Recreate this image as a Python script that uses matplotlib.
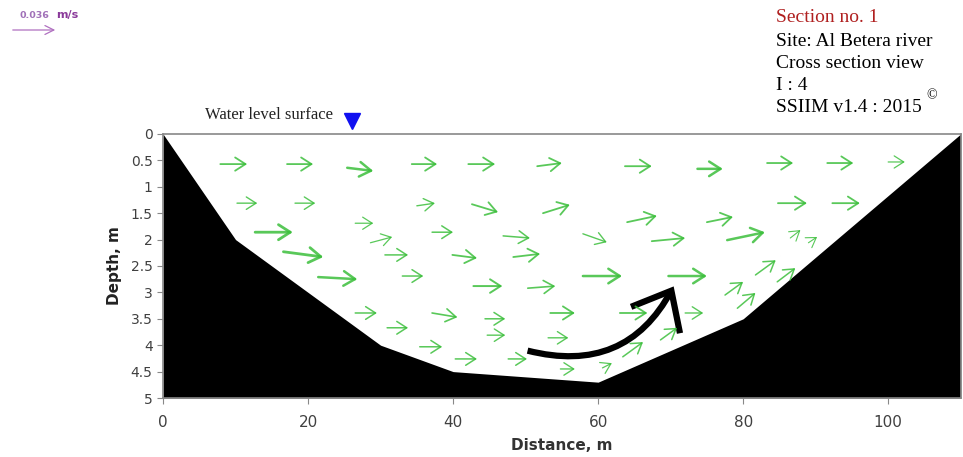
import matplotlib.pyplot as plt
from matplotlib.patches import FancyArrowPatch

# river bed profile (distance m, depth m)
bed_x = [0, 10, 30, 40, 60, 80, 110]
bed_depth = [0, 2.0, 4.0, 4.5, 4.7, 3.5, 0]

# velocity vectors: tail (x0, d0) and head (x1, d1), line weight per vector
x0 = [7.9, 17.1, 25.4, 34.3, 42.1, 51.6, 63.7, 73.7, 83.3, 91.6, 100.0,
      10.2, 18.2, 35.0, 42.6, 52.4, 64.0, 75.0, 84.8, 92.3,
      12.7, 16.6, 26.5, 28.6, 30.6, 37.1, 39.9, 46.9, 48.3, 57.9, 67.4, 77.8, 86.5, 89.0,
      21.4, 33.0, 42.8, 50.3, 57.9, 69.7,
      26.5, 30.9, 35.4, 37.1, 44.4, 53.4, 63.0, 72.0, 44.7, 53.1, 40.3, 47.6, 54.8,
      60.6, 63.4, 68.6, 77.5, 79.2, 81.7, 84.7]
d0 = [0.57, 0.57, 0.64, 0.57, 0.57, 0.61, 0.61, 0.66, 0.55, 0.55, 0.53,
      1.31, 1.31, 1.36, 1.33, 1.50, 1.67, 1.67, 1.31, 1.31,
      1.86, 2.23, 1.69, 2.06, 2.29, 1.86, 2.29, 1.93, 2.33, 1.89, 2.03, 2.01, 1.97, 2.06,
      2.71, 2.69, 2.88, 2.92, 2.69, 2.69,
      3.39, 3.67, 4.03, 3.39, 3.50, 3.39, 3.39, 3.39, 3.81, 3.86, 4.26, 4.26, 4.45,
      4.43, 4.22, 3.90, 3.05, 3.30, 2.67, 2.80]
x1 = [11.6, 20.7, 29.0, 37.8, 45.8, 55.0, 67.4, 77.2, 86.9, 95.2, 102.3,
      13.0, 21.0, 37.5, 46.2, 56.1, 68.1, 78.6, 88.8, 96.1,
      17.9, 22.1, 29.0, 31.6, 33.8, 40.0, 43.3, 50.6, 52.0, 61.2, 72.0, 83.0, 87.9, 90.2,
      26.8, 35.9, 46.8, 54.1, 63.3, 75.0,
      29.5, 33.8, 38.5, 40.6, 47.2, 56.8, 66.8, 74.5, 47.2, 55.9, 43.3, 50.2, 56.8,
      61.9, 66.2, 70.9, 80.0, 81.7, 84.5, 87.2]
d1 = [0.57, 0.57, 0.70, 0.57, 0.57, 0.55, 0.61, 0.66, 0.55, 0.55, 0.53,
      1.31, 1.31, 1.31, 1.48, 1.34, 1.55, 1.57, 1.31, 1.31,
      1.86, 2.33, 1.69, 1.95, 2.29, 1.86, 2.35, 1.97, 2.27, 2.05, 1.97, 1.86, 1.82, 1.95,
      2.75, 2.69, 2.88, 2.88, 2.69, 2.69,
      3.39, 3.67, 4.03, 3.47, 3.50, 3.39, 3.39, 3.39, 3.81, 3.86, 4.26, 4.26, 4.45,
      4.34, 3.94, 3.67, 2.80, 3.01, 2.39, 2.54]
weight = [1.3, 1.3, 1.8, 1.3, 1.3, 1.3, 1.3, 1.8, 1.3, 1.3, 0.9,
          1.0, 1.0, 1.0, 1.3, 1.3, 1.3, 1.3, 1.3, 1.3,
          2.0, 2.0, 0.9, 0.9, 1.1, 1.1, 1.3, 1.1, 1.3, 1.0, 1.3, 1.8, 0.8, 0.8,
          1.8, 1.1, 1.4, 1.2, 1.8, 1.8,
          1.1, 1.1, 1.1, 1.2, 1.1, 1.3, 1.3, 1.0, 1.0, 1.0, 1.1, 1.1, 1.0,
          0.9, 1.1, 1.1, 1.1, 1.1, 1.1, 1.1]

# highlighted flow path near the bed
path_start = (49.9, 4.09)
path_end = (70.6, 2.84)

info_lines = ["Site: Al Betera river", "Cross section view", "I : 4", "SSIIM v1.4 : 2015"]

fig = plt.figure(figsize=(9.63, 4.57), dpi=100)
ax = fig.add_axes([0.1693, 0.1291, 0.8283, 0.5777])

ax.fill_between(bed_x, bed_depth, 5, color="black", lw=0)

for i in range(len(x0)):
    lw = weight[i]
    ax.annotate("", xy=(x1[i], d1[i]), xytext=(x0[i], d0[i]),
                arrowprops=dict(arrowstyle="->,head_length=0.5,head_width=0.32",
                                color="#3cbf3c", lw=lw, shrinkA=0, shrinkB=0,
                                mutation_scale=11 + 3 * lw, alpha=0.85))

ax.add_patch(FancyArrowPatch(path_start, path_end,
                             connectionstyle="arc3,rad=0.4",
                             arrowstyle="->,head_length=0.6,head_width=0.5",
                             mutation_scale=40, lw=4.5, color="black",
                             capstyle="butt", joinstyle="miter"))

# water surface marker
ax.plot([26.1], [-0.25], marker="v", ms=12, color="#1010f0", clip_on=False)
ax.text(23.4, -0.36, "Water level surface", ha="right", va="center",
        fontsize=12, family="Liberation Serif", color="#222222")

ax.set_xlim(0, 110)
ax.set_ylim(5, 0)
ax.set_xticks([0, 20, 40, 60, 80, 100])
ax.set_yticks([0, 0.5, 1, 1.5, 2, 2.5, 3, 3.5, 4, 4.5, 5])
ax.set_yticklabels(["0", "0.5", "1", "1.5", "2", "2.5", "3", "3.5", "4", "4.5", "5"])
ax.tick_params(colors="#888888", labelcolor="#404040", labelsize=10, length=4)
ax.tick_params(axis="x", pad=8, labelsize=11)
for s in ax.spines.values():
    s.set_color("#888888")
    s.set_linewidth(1.2)
ax.set_xlabel("Distance, m", fontsize=11, fontweight="bold", color="#333333", labelpad=6)
ax.set_ylabel("Depth, m", fontsize=11, fontweight="bold", color="#222222", labelpad=6)

# scale arrow
fig.text(19 / 963, 1 - 16 / 457, "0.036", color="#a070b8", fontsize=6.8,
         fontweight="bold", va="center")
fig.text(56 / 963, 1 - 15 / 457, "m/s", color="#8a3a9a", fontsize=8,
         fontweight="bold", va="center")
fig.add_artist(FancyArrowPatch((10 / 963, 1 - 30 / 457), (58 / 963, 1 - 30 / 457),
                               transform=fig.transFigure, arrowstyle="->",
                               mutation_scale=16, lw=0.9, color="#b070c0"))

fig.text(776 / 963, 1 - 18 / 457, "Section no. 1", color="#b02020", fontsize=14,
         family="Liberation Serif", va="center")
for k, line in enumerate(info_lines):
    fig.text(776 / 963, 1 - (42 + 22 * k) / 457, line, color="black", fontsize=14,
             family="Liberation Serif", va="center")
fig.text(926 / 963, 1 - 96 / 457, "\u00a9", color="black", fontsize=10,
         family="Liberation Serif", va="center")

fig.savefig("out.png", dpi=100)
